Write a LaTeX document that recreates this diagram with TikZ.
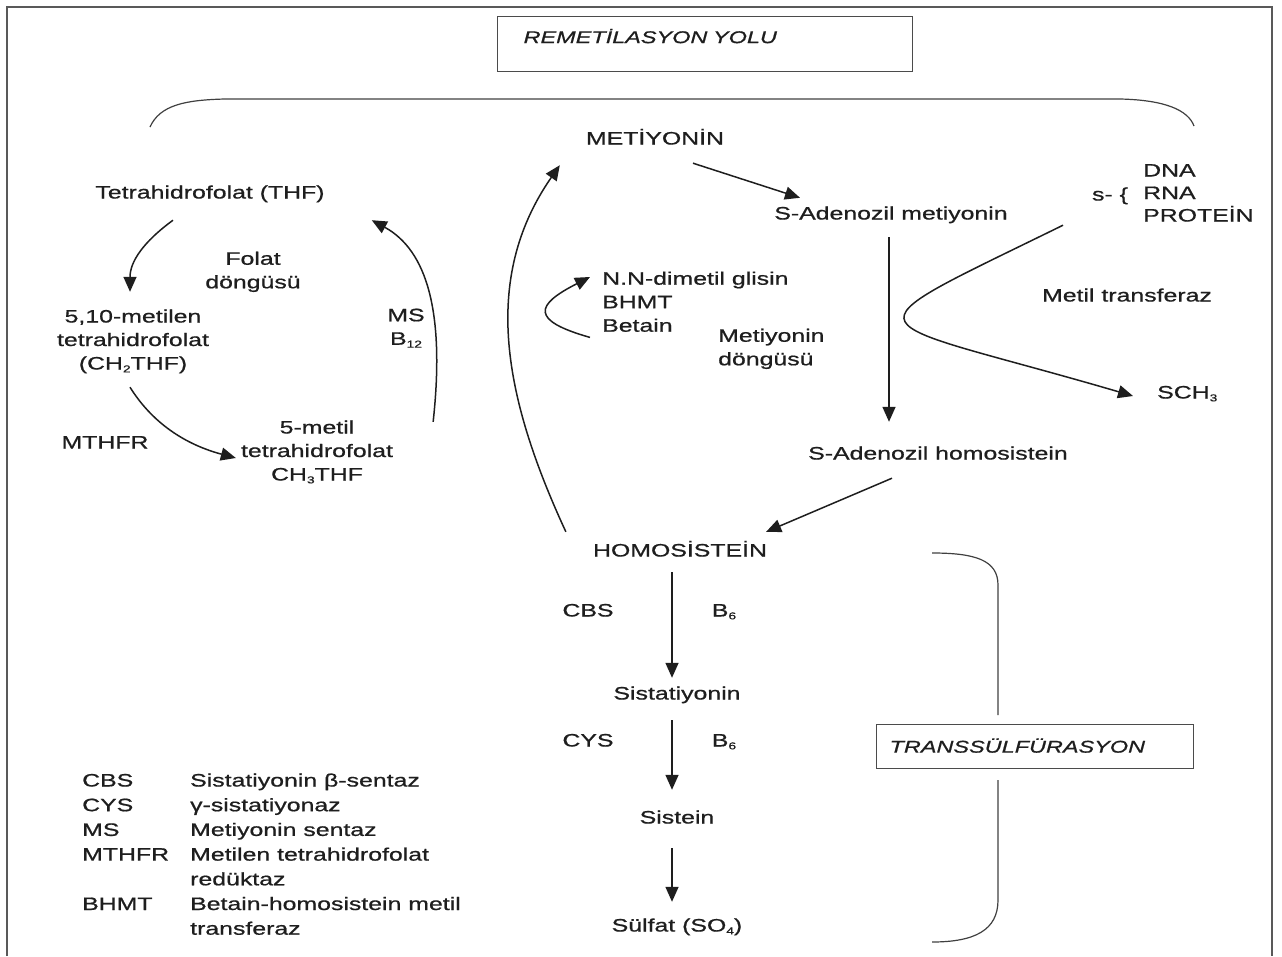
\documentclass[tikz,border=0pt]{standalone}
\usepackage{fontspec}
\setmainfont[FakeStretch=1.38,FakeBold=0.8]{Liberation Sans}
\usetikzlibrary{arrows.meta}
\definecolor{ink}{HTML}{1E1E1E}
\tikzstyle{lbl}=[inner sep=0pt,text height=13pt,text depth=0pt,text=ink,font=\fontsize{18}{23.5}\selectfont]
\tikzstyle{lbl_two}=[lbl,align=center,text height=36.5pt]
\tikzstyle{lbl_three}=[lbl,align=center,text height=60pt]
\tikzstyle{flow}=[draw=ink,line width=1.5pt,-{Triangle[length=15pt,width=13pt]}]
\tikzstyle{titlebox}=[draw=ink!80,line width=1.2pt,inner ysep=0pt,text=ink,font=\fontsize{17}{20}\selectfont\itshape,align=left]
\tikzstyle{brace_line}=[draw=ink!85,line width=1.2pt]
\newcommand{\lowsub}[1]{\raisebox{-0.3ex}{\fontsize{10}{10}\selectfont #1}}

\begin{document}
\begin{tikzpicture}[x=1pt,y=-1pt]
  \useasboundingbox (0,0) rectangle (1282,956);
  \draw[line width=2.5pt,draw=black!65] (7,956) -- (7,7) -- (1272,7) -- (1272,956);

  \node[titlebox,anchor=north west,inner xsep=26pt,text width=363pt,text height=26.5pt,text depth=28.5pt] (remet) at (497,16) {REMETİLASYON YOLU};
  \draw[brace_line] (150,127) .. controls (160,105) and (185,100) .. (225,99) -- (1120,99) .. controls (1165,100) and (1188,110) .. (1194,126);

  \node[lbl] (met) at (655,138) {METİYONİN};
  \node[lbl] (sam) at (891,213) {S-Adenozil metiyonin};
  \node[lbl] (sah) at (938,453) {S-Adenozil homosistein};
  \node[lbl] (hcy) at (680,550) {HOMOSİSTEİN};
  \node[lbl] (cth) at (677,693) {Sistatiyonin};
  \node[lbl] (cys) at (677,817) {Sistein};
  \node[lbl] (so4) at (677,925) {Sülfat (SO\lowsub{4})};
  \node[lbl] (cbs) at (588,610) {CBS};
  \node[lbl] (b6a) at (724,610) {B\lowsub{6}};
  \node[lbl] (cyse) at (588,740) {CYS};
  \node[lbl] (b6b) at (724,740) {B\lowsub{6}};

  \node[lbl] (thf) at (210,192) {Tetrahidrofolat (THF)};
  \node[lbl_two] (folat) at (253,270) {Folat\\döngüsü};
  \node[lbl_three] (ch2thf) at (133,339.5) {5,10-metilen\\tetrahidrofolat\\(CH\lowsub{2}THF)};
  \node[lbl] (mthfr) at (105,442) {MTHFR};
  \node[lbl_three] (ch3thf) at (317,450.5) {5-metil\\tetrahidrofolat\\CH\lowsub{3}THF};
  \node[lbl_two] (ms) at (406,326.5) {MS\\B\lowsub{12}};

  \node[lbl_three,align=left,anchor=north west] (bhmt) at (602,271.5) {N.N-dimetil glisin\\BHMT\\Betain};
  \node[lbl_two,align=left,anchor=west] (metcyc) at (718,347) {Metiyonin\\döngüsü};
  \node[lbl] (mtr) at (1127,295) {Metil transferaz};
  \node[lbl] (sdash) at (1110,194) {s-~\{};
  \node[lbl,align=left,anchor=west,text height=58pt,font=\fontsize{18}{22.5}\selectfont] (targets) at (1143,192.5) {DNA\\RNA\\PROTEİN};
  \node[lbl,anchor=west] (sch3) at (1157,392) {SCH\lowsub{3}};

  \draw[flow] ([shift={(38,18.5)}]met.south) -- ([shift={(-91,-8.5)}]sam.north);
  \draw[flow] ([shift={(-2,17.5)}]sam.south) -- ([shift={(-49,-24.5)}]sah.north);
  \draw[flow] ([shift={(-46,18.5)}]sah.south) -- ([shift={(-1,-11.5)}]hcy.north east);
  \draw[flow] ([shift={(-27,-11.5)}]hcy.north west) .. controls +(-61,-132) and +(-80,115) .. ([shift={(-26,20.5)}]met.south west);
  \draw[flow] ([shift={(-8,15.5)}]hcy.south) -- ([shift={(-5,-8.5)}]cth.north);
  \draw[flow] ([shift={(-5,20.5)}]cth.south) -- ([shift={(-5,-20.5)}]cys.north);
  \draw[flow] ([shift={(-5,24.5)}]cys.south) -- ([shift={(-5,-16.5)}]so4.north);

  \draw[flow] ([shift={(-37,21.5)}]thf.south) .. controls +(-30,22) and +(0,-30) .. ([shift={(-3,-17.5)}]ch2thf.north);
  \draw[flow] ([shift={(-3,17.5)}]ch2thf.south) .. controls +(25,40) and +(-45,-12) .. ([shift={(-5,7.5)}]ch3thf.west);
  \draw[flow] ([shift={(40,1.5)}]ch3thf.north east) .. controls +(12,-110) and +(55,30) .. ([shift={(47,21.5)}]thf.south east);

  \draw[flow] ([shift={(-12,5.5)}]bhmt.south west) .. controls +(-60,-17) and +(-55,28) .. ([shift={(-12,5.5)}]bhmt.north west);
  \draw[flow] ([shift={(-80,3.5)}]targets.south west) .. controls +(-230,113) and +(-280,-82) .. ([shift={(-24,4)}]sch3.west);

  \node[titlebox,anchor=north west,inner xsep=13pt,text width=291pt,text height=28pt,text depth=16pt] (trans) at (876,724) {TRANSSÜLFÜRASYON};
  \draw[brace_line] (932,553) .. controls (975,553) and (998,560) .. (998,585) -- (998,715);
  \draw[brace_line] (998,780) -- (998,900) .. controls (998,930) and (975,942) .. (932,942);

  \node[anchor=base west,inner sep=0pt,text=ink,font=\fontsize{18}{24.7}\selectfont] (legend) at (82,786.5) {\begin{tabular}[t]{@{}p{108pt}@{}l@{}}
    CBS & Sistatiyonin β-sentaz\\
    CYS & γ-sistatiyonaz\\
    MS & Metiyonin sentaz\\
    MTHFR & Metilen tetrahidrofolat\\
     & redüktaz\\
    BHMT & Betain-homosistein metil\\
     & transferaz
  \end{tabular}};
\end{tikzpicture}
\end{document}
